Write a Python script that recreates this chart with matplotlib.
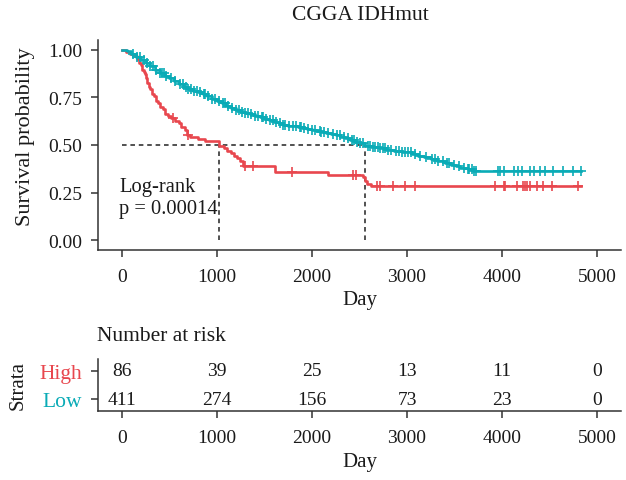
import numpy as np
import matplotlib
matplotlib.use("Agg")
import matplotlib.pyplot as plt

plt.rcParams['font.family'] = ['Liberation Serif', 'DejaVu Serif']

# Kaplan-Meier steps (time, survival after the step)
high_t = [0, 40, 90, 130, 165, 185, 200, 215, 230, 245, 255, 270, 285, 300, 320, 340,
          360, 380, 405, 430, 455, 490, 520, 560, 600, 625, 660, 690, 720, 800, 870,
          1021, 1080, 1110, 1150, 1180, 1210, 1240, 1270, 1610, 2170, 2540, 2560,
          2580, 2620, 4830]
high_s = [1.0, 0.988, 0.977, 0.965, 0.953, 0.93, 0.918, 0.895, 0.884, 0.872, 0.849,
          0.826, 0.803, 0.791, 0.768, 0.756, 0.733, 0.721, 0.698, 0.686, 0.663, 0.651,
          0.64, 0.628, 0.616, 0.592, 0.58, 0.555, 0.543, 0.531, 0.519, 0.497, 0.484,
          0.47, 0.457, 0.443, 0.43, 0.416, 0.39, 0.36, 0.345, 0.33, 0.313, 0.297,
          0.283, 0.283]
high_cens = [540, 695, 1295, 1380, 1790, 2430, 2460, 2685, 2715, 2850, 2980, 3085,
             3925, 4020, 4030, 4160, 4220, 4240, 4260, 4295, 4370, 4430, 4525, 4800]

low_t = [0, 50, 100, 150, 200, 250, 300, 350, 400, 450, 500, 550, 600, 650, 700, 750,
         800, 850, 900, 950, 1000, 1050, 1100, 1150, 1200, 1250, 1300, 1350, 1400,
         1450, 1500, 1550, 1600, 1650, 1700, 1750, 1800, 1850, 1900, 1950, 2000, 2050,
         2100, 2150, 2200, 2250, 2300, 2350, 2400, 2450, 2500, 2558, 2620, 2700, 2780,
         2860, 2950, 3050, 3120, 3180, 3250, 3320, 3400, 3460, 3520, 3560, 3640, 3690,
         4830]
low_s = [1.0, 0.99, 0.978, 0.962, 0.945, 0.93, 0.912, 0.895, 0.878, 0.864, 0.85, 0.835,
         0.818, 0.805, 0.795, 0.785, 0.777, 0.767, 0.755, 0.742, 0.73, 0.718, 0.705,
         0.694, 0.684, 0.675, 0.668, 0.66, 0.652, 0.645, 0.637, 0.63, 0.622, 0.614,
         0.607, 0.601, 0.597, 0.593, 0.588, 0.583, 0.578, 0.573, 0.569, 0.562, 0.556,
         0.55, 0.542, 0.535, 0.528, 0.518, 0.508, 0.497, 0.49, 0.482, 0.475, 0.47,
         0.464, 0.455, 0.445, 0.435, 0.426, 0.416, 0.408, 0.397, 0.388, 0.38, 0.375,
         0.366, 0.366]
low_cens = [120, 160, 190, 230, 270, 300, 330, 360, 400, 420, 440, 470, 520, 560, 610,
            640, 680, 700, 730, 760, 790, 820, 860, 880, 910, 950, 980, 1020, 1060, 1090,
            1120, 1160, 1200, 1230, 1260, 1300, 1330, 1360, 1400, 1430, 1470, 1490, 1520,
            1560, 1590, 1620, 1660, 1700, 1720, 1760, 1800, 1830, 1870, 1890, 1920, 1960,
            2000, 2030, 2080, 2100, 2130, 2170, 2220, 2260, 2290, 2340, 2380, 2420, 2440,
            2470, 2510, 2540, 2590, 2610, 2640, 2660, 2690, 2720, 2750, 2770, 2800, 2830,
            2880, 2920, 2950, 2980, 3010, 3040, 3080, 3140, 3200, 3260, 3290, 3330, 3380,
            3420, 3440, 3490, 3550, 3600, 3640, 3650, 3680, 3700, 3720, 3960, 3980, 4020,
            4120, 4170, 4210, 4290, 4340, 4400, 4450, 4540, 4640, 4740, 4830]

medians = [1021, 2558]

risk_times = [0, 1000, 2000, 3000, 4000, 5000]
risk_high = [86, 39, 25, 13, 11, 0]
risk_low = [411, 274, 156, 73, 23, 0]

red = '#E8474E'
teal = '#0AABB6'
dark = '#333333'
txt = '#1a1a1a'


def surv_at(times, surv, t):
    idx = np.searchsorted(times, t, side='right') - 1
    return np.asarray(surv)[idx]


fig = plt.figure(figsize=(6.26, 4.81), dpi=100)
ax = fig.add_axes([98 / 626, 1 - 251 / 481, 523 / 626, 210 / 481])
tab = fig.add_axes([98 / 626, 1 - 412 / 481, 523 / 626, 52 / 481])

# survival curves
for t, s, c, col in [(high_t, high_s, high_cens, red), (low_t, low_s, low_cens, teal)]:
    ax.step(t, s, where='post', color=col, lw=1.9, zorder=3)
    ax.plot(c, surv_at(t, s, c), '+', color=col, ms=6.5, mew=1.2, zorder=3)

# median lines
ax.plot([0, medians[1]], [0.5, 0.5], color='#222222', ls=(0, (3, 2.5)), lw=1.1, zorder=2)
for m in medians:
    ax.plot([m, m], [0, 0.5], color='#222222', ls=(0, (3, 2.5)), lw=1.1, zorder=2)

ax.text(-25, 0.33, 'Log-rank\np = 0.00014', ha='left', va='top', fontsize=14.8,
        color=txt, linespacing=1.2)

ax.set_xlim(-250, 5250)
ax.set_ylim(-0.05, 1.05)
ax.set_xticks(risk_times)
ax.set_yticks([0, 0.25, 0.5, 0.75, 1.0])
ax.set_yticklabels(['0.00', '0.25', '0.50', '0.75', '1.00'])
fig.text(360 / 626, 1 - 15 / 481, 'CGGA IDHmut', ha='center', va='center',
         fontsize=15.5, color=txt)
fig.text(26 / 626, 1 - 137 / 481, 'Survival probability', rotation=90, ha='center',
         va='center', fontsize=16, color=txt)
fig.text(360 / 626, 1 - 300 / 481, 'Day', ha='center', va='center', fontsize=15,
         color=txt)

# risk table
for x, h, l in zip(risk_times, risk_high, risk_low):
    tab.text(x, 2, str(h), ha='center', va='center', fontsize=14, color=txt)
    tab.text(x, 1, str(l), ha='center', va='center', fontsize=14, color=txt)
tab.set_xlim(-250, 5250)
tab.set_ylim(0.6, 2.4)
tab.set_xticks(risk_times)
tab.set_yticks([1, 2])
tab.set_yticklabels(['Low', 'High'])
fig.text(97 / 626, 1 - 337 / 481, 'Number at risk', ha='left', va='center',
         fontsize=15.5, color=txt)
fig.text(18 / 626, 1 - 386 / 481, 'Strata', rotation=90, ha='center', va='center',
         fontsize=15, color=txt)
fig.text(360 / 626, 1 - 463 / 481, 'Day', ha='center', va='center', fontsize=15,
         color=txt)

for a in (ax, tab):
    for side in ('top', 'right'):
        a.spines[side].set_visible(False)
    for side in ('left', 'bottom'):
        a.spines[side].set_color(dark)
        a.spines[side].set_linewidth(1.1)
    a.tick_params(direction='out', length=5, width=1.1, color=dark, labelsize=14,
                  labelcolor=txt)
    a.tick_params(axis='y', pad=6.5)
    a.tick_params(axis='x', pad=8)
tab.tick_params(axis='y', labelsize=15.5)
for lab, col in zip(tab.get_yticklabels(), [teal, red]):
    lab.set_color(col)

fig.savefig('out.png', dpi=100)
